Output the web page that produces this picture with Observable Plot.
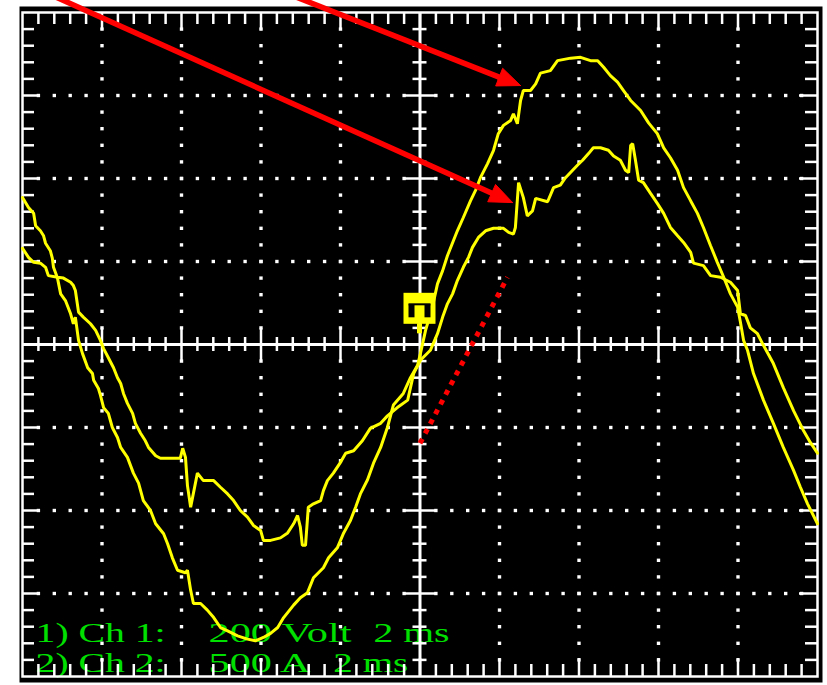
<!DOCTYPE html>
<html>
<head>
<meta charset="utf-8">
<script src="https://cdn.jsdelivr.net/npm/d3@7"></script>
<script src="https://cdn.jsdelivr.net/npm/@observablehq/plot@0.6"></script>
<style>
  html, body { margin: 0; padding: 0; background: #ffffff; }
  #chart svg { display: block; }
</style>
</head>
<body>
<div id="chart"></div>
<script>
// ---------------- DATA ----------------
// time in ms (2 ms/div, trigger at 0), amplitude in screen divisions
// Trace A: Ch 1 (200 V/div)
const traceA_ms = [-10.00,-9.85,-9.72,-9.67,-9.55,-9.47,-9.42,-9.30,-9.25,-9.22,-9.12,-9.04,-8.92,-8.79,-8.72,-8.67,-8.59,-8.49,-8.36,-8.24,-8.21,-8.09,-8.04,-7.96,-7.84,-7.74,-7.61,-7.53,-7.36,-7.21,-7.08,-6.96,-6.78,-6.65,-6.45,-6.35,-6.23,-6.10,-5.90,-5.85,-5.77,-5.70,-5.52,-5.35,-5.19,-5.02,-4.84,-4.59,-4.34,-4.14,-3.94,-3.76,-3.58,-3.43,-3.18,-3.01,-2.83,-2.68,-2.43,-2.30,-2.08,-1.92,-1.75,-1.62,-1.50,-1.32,-1.17,-0.99,-0.82,-0.67,-0.42,-0.24,-0.06,0.01,0.14,0.31,0.44,0.57,0.69,0.84,0.94,1.09,1.27,1.40,1.52,1.70,1.85,1.97,2.10,2.28,2.35,2.45,2.53,2.60,2.78,2.91,3.03,3.28,3.46,3.79,4.04,4.29,4.47,4.62,4.79,4.97,5.12,5.30,5.55,5.75,5.97,6.13,6.30,6.48,6.63,6.81,6.98,7.13,7.31,7.48,7.64,7.81,7.99,8.06,8.14,8.24,8.39,8.64,8.89,9.14,9.40,9.57,9.75,10.00];
const traceA_div = [1.77,1.65,1.58,1.43,1.37,1.31,1.22,1.13,1.04,0.93,0.80,0.61,0.53,0.37,0.25,0.33,0.05,-0.11,-0.28,-0.35,-0.43,-0.53,-0.61,-0.76,-0.83,-1.00,-1.12,-1.24,-1.36,-1.55,-1.67,-1.88,-2.00,-2.16,-2.28,-2.40,-2.57,-2.72,-2.75,-2.72,-2.96,-3.12,-3.12,-3.20,-3.29,-3.41,-3.45,-3.51,-3.55,-3.57,-3.53,-3.48,-3.41,-3.29,-3.14,-3.05,-2.99,-2.81,-2.69,-2.57,-2.45,-2.27,-2.12,-1.96,-1.80,-1.63,-1.43,-1.24,-1.00,-0.73,-0.59,-0.40,-0.25,-0.11,0.17,0.45,0.73,0.89,1.07,1.25,1.37,1.53,1.73,1.86,2.01,2.18,2.34,2.54,2.64,2.70,2.78,2.66,2.94,3.06,3.06,3.14,3.27,3.30,3.42,3.45,3.46,3.42,3.42,3.34,3.24,3.16,3.06,2.94,2.82,2.67,2.54,2.37,2.25,2.10,1.89,1.73,1.58,1.41,1.19,0.99,0.81,0.61,0.45,0.27,0.05,-0.07,-0.35,-0.67,-0.95,-1.24,-1.52,-1.72,-1.92,-2.16];

// Trace B: Ch 2 (500 A/div)
const traceB_ms = [-10.00,-9.85,-9.72,-9.55,-9.42,-9.35,-9.12,-8.97,-8.79,-8.72,-8.67,-8.59,-8.47,-8.29,-8.16,-8.04,-7.96,-7.84,-7.71,-7.61,-7.53,-7.46,-7.36,-7.23,-7.16,-7.03,-6.91,-6.83,-6.65,-6.53,-6.03,-5.97,-5.90,-5.85,-5.77,-5.60,-5.45,-5.19,-5.02,-4.84,-4.69,-4.52,-4.34,-4.19,-4.01,-3.94,-3.76,-3.51,-3.33,-3.18,-3.08,-3.01,-2.96,-2.88,-2.81,-2.68,-2.50,-2.43,-2.33,-2.18,-2.00,-1.87,-1.67,-1.45,-1.25,-0.99,-0.82,-0.57,-0.31,-0.16,0.01,0.26,0.44,0.57,0.69,0.82,0.94,1.09,1.22,1.32,1.47,1.65,1.85,2.10,2.23,2.35,2.40,2.48,2.60,2.70,2.83,2.91,3.21,3.36,3.53,3.66,3.84,3.96,4.09,4.24,4.36,4.54,4.74,4.87,5.04,5.17,5.25,5.30,5.35,5.42,5.50,5.62,5.80,5.97,6.13,6.30,6.48,6.63,6.81,6.88,7.13,7.31,7.56,7.81,7.99,8.06,8.19,8.31,8.49,8.64,8.89,9.14,9.40,9.65,9.82,10.00];
const traceB_div = [1.16,1.05,0.99,0.98,0.93,0.83,0.81,0.80,0.75,0.71,0.65,0.39,0.33,0.25,0.17,0.05,-0.05,-0.16,-0.28,-0.40,-0.47,-0.59,-0.71,-0.83,-0.95,-1.07,-1.16,-1.24,-1.34,-1.37,-1.37,-1.25,-1.36,-1.70,-1.96,-1.55,-1.64,-1.64,-1.72,-1.80,-1.88,-2.00,-2.08,-2.18,-2.24,-2.36,-2.36,-2.33,-2.27,-2.16,-2.06,-2.20,-2.42,-2.42,-1.96,-1.92,-1.88,-1.76,-1.64,-1.55,-1.42,-1.31,-1.28,-1.16,-1.01,-0.95,-0.86,-0.76,-0.67,-0.35,-0.19,-0.07,0.13,0.33,0.49,0.61,0.77,0.93,1.05,1.17,1.29,1.37,1.40,1.40,1.35,1.33,1.41,1.95,1.77,1.55,1.61,1.76,1.72,1.89,1.92,2.01,2.10,2.16,2.22,2.30,2.37,2.37,2.34,2.27,2.22,2.10,2.07,2.40,2.42,2.22,1.98,1.95,1.82,1.70,1.58,1.41,1.31,1.23,1.11,0.98,0.95,0.83,0.81,0.75,0.65,0.37,0.35,0.20,0.13,-0.01,-0.23,-0.52,-0.80,-1.04,-1.18,-1.31];

// Screen legend text
const labelTexts = ["1) Ch 1:", "200 Volt", "2 ms", "2) Ch 2:", "500 A", "2 ms"];

// Annotations (ms, div)
const arrowStart = [[-3.56, 4.27], [-9.55, 4.27]];
const arrowTip   = [[2.53, 3.12], [2.33, 1.71]];
const slopeStart = [0.00, -1.19];
const slopeEnd   = [2.20, 0.81];
const triggerTime = 0.0;
const triggerLevel = 0.43;

// ---------------- LAYOUT ----------------
const W = 827, H = 685;
const mL = 22, mR = 10, mT = 12, mB = 9;
const frameW = W - mL - mR, frameH = H - mT - mB;
const pxPerMs = frameW / 20, pxPerDiv = frameH / 8;
const msOf = px => px / pxPerMs;
const divOf = px => px / pxPerDiv;
const xs = d3.scaleLinear([-10, 10], [mL, W - mR]);
const ys = d3.scaleLinear([-4, 4], [H - mB, mT]);

const GRID = "#ffffff", TRACE = "#ffff00", RED = "#ff0000", GREEN = "#00e000";

// grid indices (minor = 1/5 division)
const tIdx = d3.range(-24, 25);            // minor time positions (0.4 ms)
const vIdx = d3.range(-19, 20);            // minor amplitude positions (0.2 div)
const tMinor = i => i * 0.4;
const vMinor = j => j * 0.2;

const gridDots = [];
for (const i of tIdx) if (i % 5 === 0 && i !== 0)
  for (const j of vIdx) if (j !== 0) gridDots.push({t: tMinor(i), v: vMinor(j)});
for (const j of vIdx) if (j % 5 === 0 && j !== 0)
  for (const i of tIdx) if (i !== 0) gridDots.push({t: tMinor(i), v: vMinor(j)});

const borderLen = k => (k % 5 === 0 ? 18 : 12);
const axisLen = k => (k % 5 === 0 ? 16 : 7);

// label layout (ms, div) and rendered widths (px)
const labelLayout = [
  {t: -9.67, v: -3.58, w: 130}, {t: -5.32, v: -3.58, w: 143}, {t: -1.17, v: -3.58, w: 76},
  {t: -9.67, v: -3.95, w: 130}, {t: -5.32, v: -3.95, w: 102}, {t: -2.18, v: -3.95, w: 75}
];
const labels = labelTexts.map((s, i) => ({s, ...labelLayout[i]}));

const traceA = traceA_ms.map((t, i) => ({t, v: traceA_div[i]}));
const traceB = traceB_ms.map((t, i) => ({t, v: traceB_div[i]}));

// trigger marker pieces (pixel offsets from the marker centre)
const off = (dx1, dx2, dy1, dy2, fill) => ({
  x1: triggerTime + msOf(dx1), x2: triggerTime + msOf(dx2),
  y1: triggerLevel - divOf(dy1), y2: triggerLevel - divOf(dy2), fill
});
const trigShapes = [
  off(-16, 16, -15.5, 15.5, TRACE),
  off(-2.5, 2.5, 15, 25, TRACE),
  off(-11, 11, -5, -3, "#000000"),
  off(-11, -5, -4, 9, "#000000"),
  off(5, 11, -4, 9, "#000000")
];

// arrows: shafts + filled heads (built in pixel space, mapped back)
const shafts = [], heads = [];
arrowStart.forEach((s, k) => {
  const tip = arrowTip[k];
  const p0 = [xs(s[0]), ys(s[1])], p1 = [xs(tip[0]), ys(tip[1])];
  const dx = p1[0] - p0[0], dy = p1[1] - p0[1], L = Math.hypot(dx, dy);
  const u = [dx / L, dy / L], n = [-u[1], u[0]];
  const headL = 23, headW = 19;
  const base = [p1[0] - headL * u[0], p1[1] - headL * u[1]];
  const shaftEnd = [p1[0] - (headL - 4) * u[0], p1[1] - (headL - 4) * u[1]];
  shafts.push({x1: s[0], y1: s[1], x2: xs.invert(shaftEnd[0]), y2: ys.invert(shaftEnd[1])});
  [[p1[0], p1[1]], [base[0] + n[0] * headW / 2, base[1] + n[1] * headW / 2],
   [base[0] - n[0] * headW / 2, base[1] - n[1] * headW / 2], [p1[0], p1[1]]]
    .forEach(p => heads.push({id: k, t: xs.invert(p[0]), v: ys.invert(p[1])}));
});

const plot = Plot.plot({
  width: W, height: H,
  marginLeft: mL, marginRight: mR, marginTop: mT, marginBottom: mB,
  style: {background: "#ffffff"},
  x: {domain: [-10, 10], axis: null},
  y: {domain: [-4, 4], axis: null},
  marks: [
    Plot.frame({fill: "#000000", stroke: null, insetLeft: -3, insetTop: -6, insetRight: -5, insetBottom: -6}),
    // on-screen legend text (under grid)
    Plot.text(labels, {x: "t", y: "v", text: "s", textAnchor: "start", lineAnchor: "bottom",
      fill: GREEN, fontSize: 28, fontFamily: "Liberation Serif, Times New Roman, serif"}),
    // dotted graticule
    Plot.dot(gridDots, {x: "t", y: "v", symbol: "square", r: 1.9, fill: GRID, stroke: null}),
    // border ticks
    Plot.ruleX(tIdx, {x: tMinor, y1: 4, y2: i => 4 - divOf(borderLen(i)), stroke: GRID, strokeWidth: 2.5}),
    Plot.ruleX(tIdx, {x: tMinor, y1: -4, y2: i => -4 + divOf(borderLen(i)), stroke: GRID, strokeWidth: 2.5}),
    Plot.ruleY(vIdx, {y: vMinor, x1: -10, x2: j => -10 + msOf(borderLen(j)), stroke: GRID, strokeWidth: 2.5}),
    Plot.ruleY(vIdx, {y: vMinor, x1: 10, x2: j => 10 - msOf(borderLen(j)), stroke: GRID, strokeWidth: 2.5}),
    // centre axes with cross ticks
    Plot.ruleY([0], {x1: -10, x2: 10, stroke: GRID, strokeWidth: 3}),
    Plot.ruleX([0], {y1: -4, y2: 4, stroke: GRID, strokeWidth: 3}),
    Plot.ruleX(tIdx.filter(i => i !== 0), {x: tMinor, y1: i => -divOf(axisLen(i)), y2: i => divOf(axisLen(i)), stroke: GRID, strokeWidth: 2.5}),
    Plot.ruleY(vIdx.filter(j => j !== 0), {y: vMinor, x1: j => -msOf(axisLen(j)), x2: j => msOf(axisLen(j)), stroke: GRID, strokeWidth: 2.5}),
    Plot.frame({stroke: GRID, strokeWidth: 2.5}),
    // traces
    Plot.line(traceB, {x: "t", y: "v", stroke: TRACE, strokeWidth: 3, strokeLinejoin: "miter"}),
    Plot.line(traceA, {x: "t", y: "v", stroke: TRACE, strokeWidth: 3, strokeLinejoin: "miter"}),
    // trigger marker
    Plot.rect(trigShapes, {x1: "x1", x2: "x2", y1: "y1", y2: "y2", fill: "fill"}),
    // red dotted slope line
    Plot.link([0], {x1: slopeStart[0], y1: slopeStart[1], x2: slopeEnd[0], y2: slopeEnd[1],
      stroke: RED, strokeWidth: 5, strokeDasharray: "5,6"}),
    // red arrows
    Plot.link(shafts, {x1: "x1", y1: "y1", x2: "x2", y2: "y2", stroke: RED, strokeWidth: 5.5}),
    Plot.line(heads, {x: "t", y: "v", z: "id", fill: RED, stroke: RED, strokeWidth: 1})
  ]
});

d3.select(plot).selectAll('g[aria-label="text"] text').each(function(_, i) {
  if (labels[i]) {
    this.setAttribute("textLength", labels[i].w);
    this.setAttribute("lengthAdjust", "spacingAndGlyphs");
  }
});

document.getElementById("chart").appendChild(plot);
</script>
</body>
</html>
